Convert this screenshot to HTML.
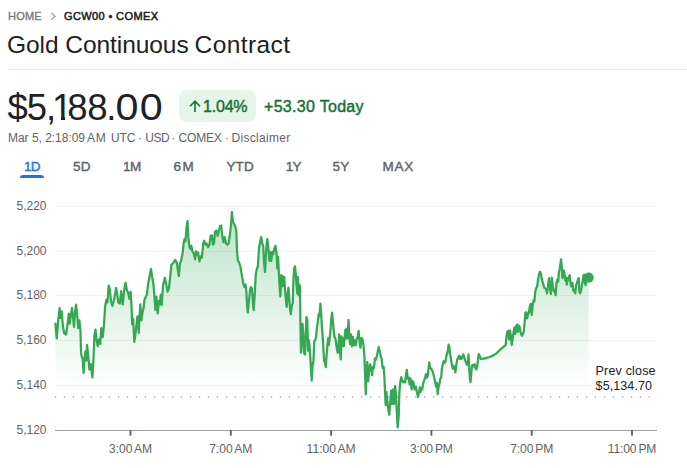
<!DOCTYPE html>
<html><head><meta charset="utf-8"><title>Gold Continuous Contract</title>
<style>
html,body{margin:0;padding:0;background:#fff;}
body{width:687px;height:468px;overflow:hidden;position:relative;font-family:"Liberation Sans",sans-serif;color:#202124;}
.abs{position:absolute;white-space:nowrap;}
.crumb{top:10px;font-size:11px;line-height:13px;letter-spacing:0.2px;color:#747a80;font-weight:normal;-webkit-text-stroke:0.35px #747a80;}
.crumb.b{color:#202124;font-weight:normal;letter-spacing:0.38px;-webkit-text-stroke:0.5px #202124;}
.title{left:7px;top:29.5px;font-size:24.5px;line-height:30px;color:#202124;letter-spacing:0.05px;}
.hr{left:8px;top:69px;width:679px;height:1px;background:#e8eaed;}
.price{left:7.6px;top:86.5px;font-size:36.5px;line-height:42px;color:#202124;letter-spacing:-1.05px;}
.chip{left:179px;top:90px;width:77px;height:32px;border-radius:8px;background:#e6f4ea;}
.chiptxt{left:203px;top:96.5px;font-size:16px;line-height:19px;color:#137333;font-weight:normal;-webkit-text-stroke:0.45px #137333;letter-spacing:-0.2px;}
.today{left:264px;top:96.5px;font-size:16px;line-height:19px;color:#137333;font-weight:normal;-webkit-text-stroke:0.45px #137333;letter-spacing:0.3px;}
.meta{left:8px;top:130.8px;letter-spacing:-0.03px;font-size:12px;line-height:14px;color:#5f6368;}
.tab{top:158.5px;font-size:13.5px;line-height:16px;color:#5f6368;font-weight:normal;-webkit-text-stroke:0.4px #5f6368;letter-spacing:0.2px;}
.tab.sel{color:#1a73e8;-webkit-text-stroke:0.4px #1a73e8;}
.ul{left:20px;top:174.5px;width:24px;height:3px;background:#1a73e8;border-radius:3px 3px 0 0;}
.yl{position:absolute;left:16.5px;font-size:12px;line-height:16px;color:#5f6368;white-space:nowrap;}
.xl{position:absolute;top:441px;width:80px;text-align:center;word-spacing:-1.2px;font-size:12.1px;line-height:16px;color:#5f6368;white-space:nowrap;}
.pc{left:595.6px;font-size:12.5px;line-height:15px;color:#202124;letter-spacing:0.18px;}
.pcbg{left:592px;top:362px;width:66px;height:30px;background:#fff;}
svg{position:absolute;left:0;top:0;}
</style></head><body>
<div class="abs crumb" style="left:8px">HOME</div>
<div class="abs crumb b" style="left:64px">GCW00 &bull; COMEX</div>
<div class="abs title"><span style="letter-spacing:-0.06px">Gold Continuous</span><span style="letter-spacing:-0.9px"> </span><span style="letter-spacing:0.42px">Contract</span></div>
<div class="abs hr"></div>
<div class="abs price">$5<span style="letter-spacing:-4.25px">,</span><span style="letter-spacing:-5.15px">1</span><span style="letter-spacing:-0.15px">8</span><span style="letter-spacing:-1.45px">8</span><span style="letter-spacing:1.05px">.</span><span style="letter-spacing:3.35px;display:inline-block;transform:scaleX(1.13)">0</span><span style="display:inline-block;transform:scaleX(1.13)">0</span></div>
<div class="abs" style="left:54px;top:116.3px;width:6.8px;height:4.2px;background:#fff"></div><div class="abs" style="left:64.6px;top:116.3px;width:6.2px;height:4.2px;background:#fff"></div>
<div class="abs chip"></div>
<svg width="687" height="468" viewBox="0 0 687 468">
<defs><linearGradient id="g" x1="0" y1="212" x2="0" y2="388" gradientUnits="userSpaceOnUse">
<stop offset="0" stop-color="#34a853" stop-opacity="0.32"/><stop offset="1" stop-color="#34a853" stop-opacity="0"/></linearGradient></defs>
<path d="M51.3,12.6 L55,16.2 L51.3,19.8" fill="none" stroke="#9aa0a6" stroke-width="1.2"/>
<path d="M190,106.2 L195,101.2 L200,106.2 M195,101.6 L195,111.9" fill="none" stroke="#137333" stroke-width="1.6"/>
<line x1="55" x2="656" y1="206.5" y2="206.5" stroke="#f1f2f3" stroke-width="1"/><line x1="55" x2="656" y1="251.5" y2="251.5" stroke="#f1f2f3" stroke-width="1"/><line x1="55" x2="656" y1="295.5" y2="295.5" stroke="#f1f2f3" stroke-width="1"/><line x1="55" x2="656" y1="340.5" y2="340.5" stroke="#f1f2f3" stroke-width="1"/><line x1="55" x2="656" y1="385.5" y2="385.5" stroke="#f1f2f3" stroke-width="1"/>
<path d="M55.4,323.7 L56.7,338.3 L58.0,322.6 L59.6,308.0 L60.5,318.0 L61.6,311.4 L63.0,327.0 L64.3,333.3 L66.1,334.5 L67.5,324.8 L68.8,313.6 L69.7,323.7 L70.8,315.9 L72.0,308.0 L73.1,318.1 L74.0,327.0 L75.1,311.4 L76.0,304.6 L77.1,313.6 L78.2,328.2 L79.4,320.3 L80.5,331.5 L81.1,354.0 L82.7,359.6 L83.6,373.0 L84.5,358.4 L85.4,351.7 L86.3,360.7 L87.0,345.0 L88.1,354.0 L89.4,369.6 L90.8,364.0 L92.4,377.5 L93.5,358.4 L94.4,336.0 L95.5,329.7 L96.6,340.5 L97.7,346.1 L98.9,339.4 L100.2,343.9 L101.3,328.2 L102.7,337.1 L104.0,324.8 L105.1,306.9 L106.2,300.2 L107.4,302.4 L108.7,285.6 L109.8,289.0 L111.0,301.3 L112.3,305.8 L113.9,300.2 L115.2,293.4 L116.1,287.8 L117.2,294.6 L118.3,302.4 L119.9,303.5 L121.1,291.1 L122.8,304.3 L124.2,289.7 L125.6,282.8 L126.9,290.4 L128.1,292.5 L129.4,298.8 L130.6,291.8 L131.4,303.6 L132.2,324.4 L133.2,318.9 L133.8,332.8 L134.3,341.8 L135.3,335.6 L136.2,327.2 L137.5,316.4 L138.8,332.8 L139.4,318.9 L140.3,304.3 L141.4,320.3 L142.5,312.6 L143.6,307.8 L144.4,300.1 L145.8,296.7 L146.9,294.6 L148.1,284.2 L149.6,276.0 L151.0,268.9 L152.1,277.1 L153.3,282.8 L154.4,295.3 L155.4,309.9 L156.4,296.7 L157.8,313.3 L158.9,300.8 L159.9,304.3 L160.8,294.6 L161.7,305.0 L163.1,285.0 L164.9,277.8 L166.2,283.9 L167.6,291.7 L168.9,288.3 L170.3,276.0 L171.4,264.8 L172.5,263.7 L173.6,262.6 L175.2,259.9 L176.8,262.6 L177.9,270.4 L178.8,276.0 L179.9,263.7 L181.2,260.3 L182.6,253.6 L183.7,242.4 L184.6,239.0 L185.5,241.3 L186.4,229.0 L187.5,221.1 L188.4,237.9 L189.5,246.9 L190.4,249.1 L191.3,245.8 L192.5,251.4 L193.8,253.6 L195.1,259.2 L196.0,251.2 L197.0,255.0 L198.1,252.4 L199.4,261.4 L200.6,256.3 L201.9,257.6 L203.2,243.5 L204.2,240.9 L205.5,244.7 L206.8,243.5 L208.1,247.3 L209.4,244.7 L210.6,235.8 L211.9,235.3 L212.9,244.7 L214.0,243.5 L215.0,231.9 L216.3,230.6 L217.6,235.8 L218.8,230.6 L220.1,226.0 L221.2,225.5 L222.2,235.8 L223.5,242.2 L224.7,237.1 L226.0,243.5 L227.3,244.7 L228.6,243.5 L229.9,234.5 L230.9,225.5 L231.9,212.2 L232.9,221.7 L234.2,224.2 L235.3,226.8 L236.3,230.6 L237.0,251.2 L237.8,260.1 L239.1,262.7 L240.4,266.5 L241.4,272.9 L242.4,278.1 L243.5,284.5 L244.5,287.1 L245.5,284.5 L246.3,290.9 L247.1,305.0 L247.8,312.7 L248.8,302.4 L249.9,290.9 L250.9,287.1 L251.9,288.3 L252.9,302.4 L253.7,310.1 L254.7,294.7 L255.8,274.2 L256.8,269.1 L257.8,266.5 L259.1,247.3 L260.1,242.2 L261.2,237.1 L262.2,243.5 L263.2,246.0 L264.2,264.0 L265.0,272.2 L266.2,249.2 L267.3,239.2 L268.5,249.2 L269.4,260.8 L270.4,252.1 L271.3,260.8 L272.3,252.1 L273.3,254.0 L274.2,249.2 L275.4,245.8 L276.5,252.1 L277.3,268.5 L278.1,256.9 L278.8,272.3 L279.6,286.7 L280.4,296.3 L281.2,275.2 L281.9,286.7 L282.7,276.2 L283.5,285.8 L284.2,277.1 L285.0,289.6 L285.8,298.3 L286.7,306.9 L287.7,293.5 L288.5,287.7 L289.2,297.3 L290.0,308.8 L290.8,314.2 L291.7,306.0 L292.7,303.1 L293.5,278.1 L294.2,268.5 L295.0,266.5 L295.8,274.2 L296.5,283.8 L297.3,293.5 L297.9,277.1 L298.7,295.4 L299.4,284.8 L300.0,286.7 L300.4,323.8 L301.0,352.7 L301.7,341.2 L302.5,323.8 L303.3,333.5 L304.0,352.7 L305.0,354.6 L305.8,333.5 L306.5,317.1 L307.3,320.0 L308.1,350.8 L308.8,340.2 L309.6,346.0 L310.4,359.4 L311.2,371.9 L311.7,380.6 L312.5,366.2 L313.5,360.4 L314.2,341.2 L315.2,340.2 L316.2,336.3 L316.9,327.7 L317.7,322.9 L318.7,314.2 L319.4,316.2 L320.4,303.7 L321.2,314.2 L321.9,326.7 L322.7,336.3 L323.5,350.8 L324.2,361.3 L325.0,362.3 L325.8,367.1 L326.5,356.5 L327.3,346.9 L328.1,338.3 L328.8,345.0 L329.6,338.3 L330.4,331.5 L331.2,320.0 L332.1,312.7 L332.9,321.0 L333.7,330.6 L334.6,337.3 L335.4,338.3 L336.2,344.0 L336.9,348.8 L337.7,352.7 L338.5,345.0 L339.2,334.4 L340.0,352.7 L340.8,359.4 L341.5,336.3 L342.3,346.0 L343.1,338.3 L343.8,346.0 L344.6,338.3 L345.4,329.6 L346.2,338.3 L346.9,328.7 L347.7,338.3 L348.5,320.0 L349.2,333.5 L350.0,344.0 L351.0,334.4 L351.9,346.4 L352.9,336.8 L353.8,345.2 L354.8,340.4 L355.8,345.2 L356.7,339.2 L357.7,336.8 L358.6,330.8 L359.6,341.6 L360.5,347.6 L361.5,338.0 L362.5,339.2 L363.4,344.0 L364.4,356.0 L365.1,375.1 L365.8,394.3 L366.5,375.1 L367.3,362.0 L368.2,381.1 L369.2,370.3 L370.1,364.4 L371.1,368.0 L372.1,375.1 L373.0,366.8 L374.0,368.0 L374.9,358.4 L375.9,359.6 L376.9,356.0 L377.8,351.2 L378.8,346.9 L379.7,351.2 L380.7,356.0 L381.6,358.4 L382.6,368.0 L383.6,366.8 L384.3,375.1 L385.0,391.9 L385.7,405.1 L386.4,391.9 L387.4,401.5 L388.4,409.9 L389.3,414.7 L390.3,401.5 L391.2,390.7 L392.2,403.9 L393.2,389.5 L394.1,403.9 L395.1,385.9 L396.0,394.3 L397.0,415.9 L397.7,427.4 L398.7,415.9 L399.4,391.9 L400.3,382.3 L401.3,377.1 L402.3,381.1 L403.2,382.3 L404.2,381.1 L405.1,382.3 L406.1,373.9 L406.8,369.9 L407.8,378.7 L408.7,377.5 L409.7,384.7 L410.7,378.7 L411.6,389.5 L412.6,381.1 L413.5,382.3 L414.5,389.5 L415.0,387.3 L415.9,386.6 L416.8,391.8 L418.0,397.1 L419.0,392.6 L419.8,387.3 L420.7,391.8 L421.4,388.1 L422.2,389.6 L423.1,383.6 L424.0,380.6 L425.0,378.4 L425.9,374.2 L427.0,377.6 L427.9,375.4 L428.6,367.9 L429.2,362.4 L430.0,367.1 L430.9,368.6 L431.7,369.4 L432.6,371.6 L433.5,374.6 L434.4,378.4 L435.3,382.9 L436.1,386.6 L436.8,382.9 L437.7,394.1 L438.6,386.6 L439.5,383.6 L440.4,378.4 L441.2,377.6 L441.9,368.6 L442.8,364.2 L443.7,361.2 L444.6,362.7 L445.5,361.2 L446.4,355.9 L447.1,353.7 L447.9,350.0 L448.6,344.7 L449.4,347.0 L450.1,354.4 L450.9,358.2 L451.8,364.2 L452.7,368.6 L453.6,365.7 L454.5,368.6 L455.4,372.4 L456.3,364.9 L457.2,359.7 L458.1,358.2 L459.0,355.9 L459.9,358.9 L460.8,356.7 L461.7,358.9 L462.6,356.7 L463.4,354.4 L464.3,357.4 L465.2,360.4 L466.1,362.7 L467.0,364.9 L467.9,362.7 L468.5,354.4 L469.1,366.4 L469.9,378.4 L470.5,382.1 L471.2,373.9 L472.0,365.7 L472.9,364.9 L473.8,366.4 L474.7,364.2 L475.6,368.6 L476.3,369.4 L477.2,366.4 L478.0,359.7 L478.7,354.1 L479.4,355.2 L480.2,357.4 L480.9,358.9 L483.8,358.6 L486.8,357.9 L489.8,357.0 L493.4,355.4 L496.7,353.1 L500.1,349.7 L503.5,346.8 L505.7,344.8 L506.4,337.4 L507.3,331.8 L508.2,330.7 L509.1,339.7 L510.0,330.7 L510.9,336.3 L511.8,344.8 L512.7,338.5 L513.6,331.8 L514.5,327.3 L515.4,334.0 L516.2,326.2 L517.1,324.6 L518.0,331.8 L518.9,325.7 L519.8,327.3 L520.7,332.9 L521.9,335.8 L523.0,334.0 L523.9,330.7 L524.8,320.6 L525.4,312.7 L526.3,312.1 L527.2,318.3 L528.1,313.8 L529.0,312.7 L529.9,306.0 L530.8,303.8 L531.7,315.0 L532.6,306.0 L533.5,300.4 L534.4,301.5 L535.3,291.4 L536.2,288.0 L537.1,286.5 L538.0,280.2 L538.9,274.6 L540.0,271.7 L540.9,273.9 L541.8,279.1 L542.7,282.4 L543.6,285.8 L544.5,288.0 L545.9,288.7 L547.1,293.4 L548.1,285.2 L549.0,278.2 L549.9,287.6 L550.9,294.0 L551.8,277.6 L552.7,285.2 L553.7,291.1 L554.6,289.9 L555.6,295.2 L556.5,282.9 L557.4,279.4 L558.2,281.7 L558.9,272.3 L559.6,269.4 L560.3,265.3 L561.0,259.4 L561.7,265.3 L562.4,278.2 L563.1,272.3 L563.8,270.5 L564.5,273.5 L565.2,280.5 L566.1,277.6 L566.8,284.6 L567.5,278.2 L568.2,280.5 L569.0,277.0 L569.7,275.2 L570.4,282.3 L571.1,286.4 L571.8,284.0 L572.5,282.9 L573.2,289.9 L573.9,291.7 L574.6,289.9 L575.3,293.4 L576.0,285.2 L576.7,284.0 L577.4,281.7 L578.1,278.8 L578.8,278.2 L579.3,291.1 L580.0,293.4 L580.9,291.1 L581.9,285.2 L582.8,280.5 L583.5,275.2 L584.2,274.7 L584.9,282.9 L585.6,285.2 L586.3,280.5 L587.0,278.2 L588.6,277.6 L588.6,430 L55.4,430 Z" fill="url(#g)" stroke="none"/>
<circle cx="55.5" cy="397" r="0.8" fill="#9aa0a6"/><circle cx="64.5" cy="397" r="0.8" fill="#9aa0a6"/><circle cx="73.5" cy="397" r="0.8" fill="#9aa0a6"/><circle cx="82.5" cy="397" r="0.8" fill="#9aa0a6"/><circle cx="91.5" cy="397" r="0.8" fill="#9aa0a6"/><circle cx="100.5" cy="397" r="0.8" fill="#9aa0a6"/><circle cx="109.5" cy="397" r="0.8" fill="#9aa0a6"/><circle cx="118.5" cy="397" r="0.8" fill="#9aa0a6"/><circle cx="127.5" cy="397" r="0.8" fill="#9aa0a6"/><circle cx="136.5" cy="397" r="0.8" fill="#9aa0a6"/><circle cx="145.5" cy="397" r="0.8" fill="#9aa0a6"/><circle cx="154.5" cy="397" r="0.8" fill="#9aa0a6"/><circle cx="163.5" cy="397" r="0.8" fill="#9aa0a6"/><circle cx="172.5" cy="397" r="0.8" fill="#9aa0a6"/><circle cx="181.5" cy="397" r="0.8" fill="#9aa0a6"/><circle cx="190.5" cy="397" r="0.8" fill="#9aa0a6"/><circle cx="199.5" cy="397" r="0.8" fill="#9aa0a6"/><circle cx="208.5" cy="397" r="0.8" fill="#9aa0a6"/><circle cx="217.5" cy="397" r="0.8" fill="#9aa0a6"/><circle cx="226.5" cy="397" r="0.8" fill="#9aa0a6"/><circle cx="235.5" cy="397" r="0.8" fill="#9aa0a6"/><circle cx="244.5" cy="397" r="0.8" fill="#9aa0a6"/><circle cx="253.5" cy="397" r="0.8" fill="#9aa0a6"/><circle cx="262.5" cy="397" r="0.8" fill="#9aa0a6"/><circle cx="271.5" cy="397" r="0.8" fill="#9aa0a6"/><circle cx="280.5" cy="397" r="0.8" fill="#9aa0a6"/><circle cx="289.5" cy="397" r="0.8" fill="#9aa0a6"/><circle cx="298.5" cy="397" r="0.8" fill="#9aa0a6"/><circle cx="307.5" cy="397" r="0.8" fill="#9aa0a6"/><circle cx="316.5" cy="397" r="0.8" fill="#9aa0a6"/><circle cx="325.5" cy="397" r="0.8" fill="#9aa0a6"/><circle cx="334.5" cy="397" r="0.8" fill="#9aa0a6"/><circle cx="343.5" cy="397" r="0.8" fill="#9aa0a6"/><circle cx="352.5" cy="397" r="0.8" fill="#9aa0a6"/><circle cx="361.5" cy="397" r="0.8" fill="#9aa0a6"/><circle cx="370.5" cy="397" r="0.8" fill="#9aa0a6"/><circle cx="379.5" cy="397" r="0.8" fill="#9aa0a6"/><circle cx="388.5" cy="397" r="0.8" fill="#9aa0a6"/><circle cx="397.5" cy="397" r="0.8" fill="#9aa0a6"/><circle cx="406.5" cy="397" r="0.8" fill="#9aa0a6"/><circle cx="415.5" cy="397" r="0.8" fill="#9aa0a6"/><circle cx="424.5" cy="397" r="0.8" fill="#9aa0a6"/><circle cx="433.5" cy="397" r="0.8" fill="#9aa0a6"/><circle cx="442.5" cy="397" r="0.8" fill="#9aa0a6"/><circle cx="451.5" cy="397" r="0.8" fill="#9aa0a6"/><circle cx="460.5" cy="397" r="0.8" fill="#9aa0a6"/><circle cx="469.5" cy="397" r="0.8" fill="#9aa0a6"/><circle cx="478.5" cy="397" r="0.8" fill="#9aa0a6"/><circle cx="487.5" cy="397" r="0.8" fill="#9aa0a6"/><circle cx="496.5" cy="397" r="0.8" fill="#9aa0a6"/><circle cx="505.5" cy="397" r="0.8" fill="#9aa0a6"/><circle cx="514.5" cy="397" r="0.8" fill="#9aa0a6"/><circle cx="523.5" cy="397" r="0.8" fill="#9aa0a6"/><circle cx="532.5" cy="397" r="0.8" fill="#9aa0a6"/><circle cx="541.5" cy="397" r="0.8" fill="#9aa0a6"/><circle cx="550.5" cy="397" r="0.8" fill="#9aa0a6"/><circle cx="559.5" cy="397" r="0.8" fill="#9aa0a6"/><circle cx="568.5" cy="397" r="0.8" fill="#9aa0a6"/><circle cx="577.5" cy="397" r="0.8" fill="#9aa0a6"/><circle cx="586.5" cy="397" r="0.8" fill="#9aa0a6"/><circle cx="595.5" cy="397" r="0.8" fill="#9aa0a6"/><circle cx="604.5" cy="397" r="0.8" fill="#9aa0a6"/><circle cx="613.5" cy="397" r="0.8" fill="#9aa0a6"/><circle cx="622.5" cy="397" r="0.8" fill="#9aa0a6"/><circle cx="631.5" cy="397" r="0.8" fill="#9aa0a6"/><circle cx="640.5" cy="397" r="0.8" fill="#9aa0a6"/><circle cx="649.5" cy="397" r="0.8" fill="#9aa0a6"/>
<line x1="55" x2="657" y1="430.5" y2="430.5" stroke="#9aa0a6" stroke-width="1"/>
<rect x="129.55" y="430" width="1.9" height="5.7" fill="#5f6368"/><rect x="229.85" y="430" width="1.9" height="5.7" fill="#5f6368"/><rect x="330.15" y="430" width="1.9" height="5.7" fill="#5f6368"/><rect x="430.45" y="430" width="1.9" height="5.7" fill="#5f6368"/><rect x="530.75" y="430" width="1.9" height="5.7" fill="#5f6368"/><rect x="631.05" y="430" width="1.9" height="5.7" fill="#5f6368"/>
<path d="M55.4,323.7 L56.7,338.3 L58.0,322.6 L59.6,308.0 L60.5,318.0 L61.6,311.4 L63.0,327.0 L64.3,333.3 L66.1,334.5 L67.5,324.8 L68.8,313.6 L69.7,323.7 L70.8,315.9 L72.0,308.0 L73.1,318.1 L74.0,327.0 L75.1,311.4 L76.0,304.6 L77.1,313.6 L78.2,328.2 L79.4,320.3 L80.5,331.5 L81.1,354.0 L82.7,359.6 L83.6,373.0 L84.5,358.4 L85.4,351.7 L86.3,360.7 L87.0,345.0 L88.1,354.0 L89.4,369.6 L90.8,364.0 L92.4,377.5 L93.5,358.4 L94.4,336.0 L95.5,329.7 L96.6,340.5 L97.7,346.1 L98.9,339.4 L100.2,343.9 L101.3,328.2 L102.7,337.1 L104.0,324.8 L105.1,306.9 L106.2,300.2 L107.4,302.4 L108.7,285.6 L109.8,289.0 L111.0,301.3 L112.3,305.8 L113.9,300.2 L115.2,293.4 L116.1,287.8 L117.2,294.6 L118.3,302.4 L119.9,303.5 L121.1,291.1 L122.8,304.3 L124.2,289.7 L125.6,282.8 L126.9,290.4 L128.1,292.5 L129.4,298.8 L130.6,291.8 L131.4,303.6 L132.2,324.4 L133.2,318.9 L133.8,332.8 L134.3,341.8 L135.3,335.6 L136.2,327.2 L137.5,316.4 L138.8,332.8 L139.4,318.9 L140.3,304.3 L141.4,320.3 L142.5,312.6 L143.6,307.8 L144.4,300.1 L145.8,296.7 L146.9,294.6 L148.1,284.2 L149.6,276.0 L151.0,268.9 L152.1,277.1 L153.3,282.8 L154.4,295.3 L155.4,309.9 L156.4,296.7 L157.8,313.3 L158.9,300.8 L159.9,304.3 L160.8,294.6 L161.7,305.0 L163.1,285.0 L164.9,277.8 L166.2,283.9 L167.6,291.7 L168.9,288.3 L170.3,276.0 L171.4,264.8 L172.5,263.7 L173.6,262.6 L175.2,259.9 L176.8,262.6 L177.9,270.4 L178.8,276.0 L179.9,263.7 L181.2,260.3 L182.6,253.6 L183.7,242.4 L184.6,239.0 L185.5,241.3 L186.4,229.0 L187.5,221.1 L188.4,237.9 L189.5,246.9 L190.4,249.1 L191.3,245.8 L192.5,251.4 L193.8,253.6 L195.1,259.2 L196.0,251.2 L197.0,255.0 L198.1,252.4 L199.4,261.4 L200.6,256.3 L201.9,257.6 L203.2,243.5 L204.2,240.9 L205.5,244.7 L206.8,243.5 L208.1,247.3 L209.4,244.7 L210.6,235.8 L211.9,235.3 L212.9,244.7 L214.0,243.5 L215.0,231.9 L216.3,230.6 L217.6,235.8 L218.8,230.6 L220.1,226.0 L221.2,225.5 L222.2,235.8 L223.5,242.2 L224.7,237.1 L226.0,243.5 L227.3,244.7 L228.6,243.5 L229.9,234.5 L230.9,225.5 L231.9,212.2 L232.9,221.7 L234.2,224.2 L235.3,226.8 L236.3,230.6 L237.0,251.2 L237.8,260.1 L239.1,262.7 L240.4,266.5 L241.4,272.9 L242.4,278.1 L243.5,284.5 L244.5,287.1 L245.5,284.5 L246.3,290.9 L247.1,305.0 L247.8,312.7 L248.8,302.4 L249.9,290.9 L250.9,287.1 L251.9,288.3 L252.9,302.4 L253.7,310.1 L254.7,294.7 L255.8,274.2 L256.8,269.1 L257.8,266.5 L259.1,247.3 L260.1,242.2 L261.2,237.1 L262.2,243.5 L263.2,246.0 L264.2,264.0 L265.0,272.2 L266.2,249.2 L267.3,239.2 L268.5,249.2 L269.4,260.8 L270.4,252.1 L271.3,260.8 L272.3,252.1 L273.3,254.0 L274.2,249.2 L275.4,245.8 L276.5,252.1 L277.3,268.5 L278.1,256.9 L278.8,272.3 L279.6,286.7 L280.4,296.3 L281.2,275.2 L281.9,286.7 L282.7,276.2 L283.5,285.8 L284.2,277.1 L285.0,289.6 L285.8,298.3 L286.7,306.9 L287.7,293.5 L288.5,287.7 L289.2,297.3 L290.0,308.8 L290.8,314.2 L291.7,306.0 L292.7,303.1 L293.5,278.1 L294.2,268.5 L295.0,266.5 L295.8,274.2 L296.5,283.8 L297.3,293.5 L297.9,277.1 L298.7,295.4 L299.4,284.8 L300.0,286.7 L300.4,323.8 L301.0,352.7 L301.7,341.2 L302.5,323.8 L303.3,333.5 L304.0,352.7 L305.0,354.6 L305.8,333.5 L306.5,317.1 L307.3,320.0 L308.1,350.8 L308.8,340.2 L309.6,346.0 L310.4,359.4 L311.2,371.9 L311.7,380.6 L312.5,366.2 L313.5,360.4 L314.2,341.2 L315.2,340.2 L316.2,336.3 L316.9,327.7 L317.7,322.9 L318.7,314.2 L319.4,316.2 L320.4,303.7 L321.2,314.2 L321.9,326.7 L322.7,336.3 L323.5,350.8 L324.2,361.3 L325.0,362.3 L325.8,367.1 L326.5,356.5 L327.3,346.9 L328.1,338.3 L328.8,345.0 L329.6,338.3 L330.4,331.5 L331.2,320.0 L332.1,312.7 L332.9,321.0 L333.7,330.6 L334.6,337.3 L335.4,338.3 L336.2,344.0 L336.9,348.8 L337.7,352.7 L338.5,345.0 L339.2,334.4 L340.0,352.7 L340.8,359.4 L341.5,336.3 L342.3,346.0 L343.1,338.3 L343.8,346.0 L344.6,338.3 L345.4,329.6 L346.2,338.3 L346.9,328.7 L347.7,338.3 L348.5,320.0 L349.2,333.5 L350.0,344.0 L351.0,334.4 L351.9,346.4 L352.9,336.8 L353.8,345.2 L354.8,340.4 L355.8,345.2 L356.7,339.2 L357.7,336.8 L358.6,330.8 L359.6,341.6 L360.5,347.6 L361.5,338.0 L362.5,339.2 L363.4,344.0 L364.4,356.0 L365.1,375.1 L365.8,394.3 L366.5,375.1 L367.3,362.0 L368.2,381.1 L369.2,370.3 L370.1,364.4 L371.1,368.0 L372.1,375.1 L373.0,366.8 L374.0,368.0 L374.9,358.4 L375.9,359.6 L376.9,356.0 L377.8,351.2 L378.8,346.9 L379.7,351.2 L380.7,356.0 L381.6,358.4 L382.6,368.0 L383.6,366.8 L384.3,375.1 L385.0,391.9 L385.7,405.1 L386.4,391.9 L387.4,401.5 L388.4,409.9 L389.3,414.7 L390.3,401.5 L391.2,390.7 L392.2,403.9 L393.2,389.5 L394.1,403.9 L395.1,385.9 L396.0,394.3 L397.0,415.9 L397.7,427.4 L398.7,415.9 L399.4,391.9 L400.3,382.3 L401.3,377.1 L402.3,381.1 L403.2,382.3 L404.2,381.1 L405.1,382.3 L406.1,373.9 L406.8,369.9 L407.8,378.7 L408.7,377.5 L409.7,384.7 L410.7,378.7 L411.6,389.5 L412.6,381.1 L413.5,382.3 L414.5,389.5 L415.0,387.3 L415.9,386.6 L416.8,391.8 L418.0,397.1 L419.0,392.6 L419.8,387.3 L420.7,391.8 L421.4,388.1 L422.2,389.6 L423.1,383.6 L424.0,380.6 L425.0,378.4 L425.9,374.2 L427.0,377.6 L427.9,375.4 L428.6,367.9 L429.2,362.4 L430.0,367.1 L430.9,368.6 L431.7,369.4 L432.6,371.6 L433.5,374.6 L434.4,378.4 L435.3,382.9 L436.1,386.6 L436.8,382.9 L437.7,394.1 L438.6,386.6 L439.5,383.6 L440.4,378.4 L441.2,377.6 L441.9,368.6 L442.8,364.2 L443.7,361.2 L444.6,362.7 L445.5,361.2 L446.4,355.9 L447.1,353.7 L447.9,350.0 L448.6,344.7 L449.4,347.0 L450.1,354.4 L450.9,358.2 L451.8,364.2 L452.7,368.6 L453.6,365.7 L454.5,368.6 L455.4,372.4 L456.3,364.9 L457.2,359.7 L458.1,358.2 L459.0,355.9 L459.9,358.9 L460.8,356.7 L461.7,358.9 L462.6,356.7 L463.4,354.4 L464.3,357.4 L465.2,360.4 L466.1,362.7 L467.0,364.9 L467.9,362.7 L468.5,354.4 L469.1,366.4 L469.9,378.4 L470.5,382.1 L471.2,373.9 L472.0,365.7 L472.9,364.9 L473.8,366.4 L474.7,364.2 L475.6,368.6 L476.3,369.4 L477.2,366.4 L478.0,359.7 L478.7,354.1 L479.4,355.2 L480.2,357.4 L480.9,358.9 L483.8,358.6 L486.8,357.9 L489.8,357.0 L493.4,355.4 L496.7,353.1 L500.1,349.7 L503.5,346.8 L505.7,344.8 L506.4,337.4 L507.3,331.8 L508.2,330.7 L509.1,339.7 L510.0,330.7 L510.9,336.3 L511.8,344.8 L512.7,338.5 L513.6,331.8 L514.5,327.3 L515.4,334.0 L516.2,326.2 L517.1,324.6 L518.0,331.8 L518.9,325.7 L519.8,327.3 L520.7,332.9 L521.9,335.8 L523.0,334.0 L523.9,330.7 L524.8,320.6 L525.4,312.7 L526.3,312.1 L527.2,318.3 L528.1,313.8 L529.0,312.7 L529.9,306.0 L530.8,303.8 L531.7,315.0 L532.6,306.0 L533.5,300.4 L534.4,301.5 L535.3,291.4 L536.2,288.0 L537.1,286.5 L538.0,280.2 L538.9,274.6 L540.0,271.7 L540.9,273.9 L541.8,279.1 L542.7,282.4 L543.6,285.8 L544.5,288.0 L545.9,288.7 L547.1,293.4 L548.1,285.2 L549.0,278.2 L549.9,287.6 L550.9,294.0 L551.8,277.6 L552.7,285.2 L553.7,291.1 L554.6,289.9 L555.6,295.2 L556.5,282.9 L557.4,279.4 L558.2,281.7 L558.9,272.3 L559.6,269.4 L560.3,265.3 L561.0,259.4 L561.7,265.3 L562.4,278.2 L563.1,272.3 L563.8,270.5 L564.5,273.5 L565.2,280.5 L566.1,277.6 L566.8,284.6 L567.5,278.2 L568.2,280.5 L569.0,277.0 L569.7,275.2 L570.4,282.3 L571.1,286.4 L571.8,284.0 L572.5,282.9 L573.2,289.9 L573.9,291.7 L574.6,289.9 L575.3,293.4 L576.0,285.2 L576.7,284.0 L577.4,281.7 L578.1,278.8 L578.8,278.2 L579.3,291.1 L580.0,293.4 L580.9,291.1 L581.9,285.2 L582.8,280.5 L583.5,275.2 L584.2,274.7 L584.9,282.9 L585.6,285.2 L586.3,280.5 L587.0,278.2 L588.6,277.6" fill="none" stroke="#34a853" stroke-width="2.25" stroke-linejoin="round" stroke-linecap="round"/>
<circle cx="588.7" cy="277.6" r="5" fill="#34a853"/>
</svg>
<div class="abs chiptxt">1.04%</div>
<div class="abs today">+53.30 Today</div>
<div class="abs meta">Mar 5, 2:18:09<span style="letter-spacing:-0.4px">&#8201;</span><span style="letter-spacing:0.8px">A</span><span style="letter-spacing:0.9px">M</span><span style="letter-spacing:0.9px"> </span>UTC<span style="letter-spacing:-0.9px"> </span>&middot; <span style="letter-spacing:-0.4px">USD</span><span style="letter-spacing:-1.4px"> </span>&middot; <span style="letter-spacing:-0.2px">COMEX</span> &middot;<span style="letter-spacing:-0.8px"> </span><span style="letter-spacing:0.31px">Disclaimer</span></div>
<div class="abs tab sel" style="left:24px;letter-spacing:-0.8px">1D</div>
<div class="abs tab" style="left:73px">5D</div>
<div class="abs tab" style="left:123px;letter-spacing:-0.6px">1M</div>
<div class="abs tab" style="left:173.5px;letter-spacing:1.4px">6M</div>
<div class="abs tab" style="left:226.4px">YTD</div>
<div class="abs tab" style="left:285.7px;letter-spacing:-0.8px">1Y</div>
<div class="abs tab" style="left:332.5px">5Y</div>
<div class="abs tab" style="left:382.6px;letter-spacing:0.7px">MAX</div>
<div class="abs ul"></div>
<div class="yl" style="top:198.0px">5,220</div><div class="yl" style="top:243.0px">5,200</div><div class="yl" style="top:287.0px">5,180</div><div class="yl" style="top:332.0px">5,160</div><div class="yl" style="top:377.0px">5,140</div><div class="yl" style="top:422.0px">5,120</div>
<div class="xl" style="left:90.5px">3:00 AM</div><div class="xl" style="left:190.8px">7:00 AM</div><div class="xl" style="left:291.1px">11:00 AM</div><div class="xl" style="left:391.4px;letter-spacing:-0.15px">3:00 PM</div><div class="xl" style="left:491.70000000000005px;letter-spacing:-0.15px">7:00 PM</div><div class="xl" style="left:592.0px;letter-spacing:-0.15px">11:00 PM</div>
<div class="abs pcbg"></div>
<div class="abs pc" style="top:363.8px">Prev close</div>
<div class="abs pc" style="top:378.6px;letter-spacing:0.1px">$5,134.70</div>
</body></html>
